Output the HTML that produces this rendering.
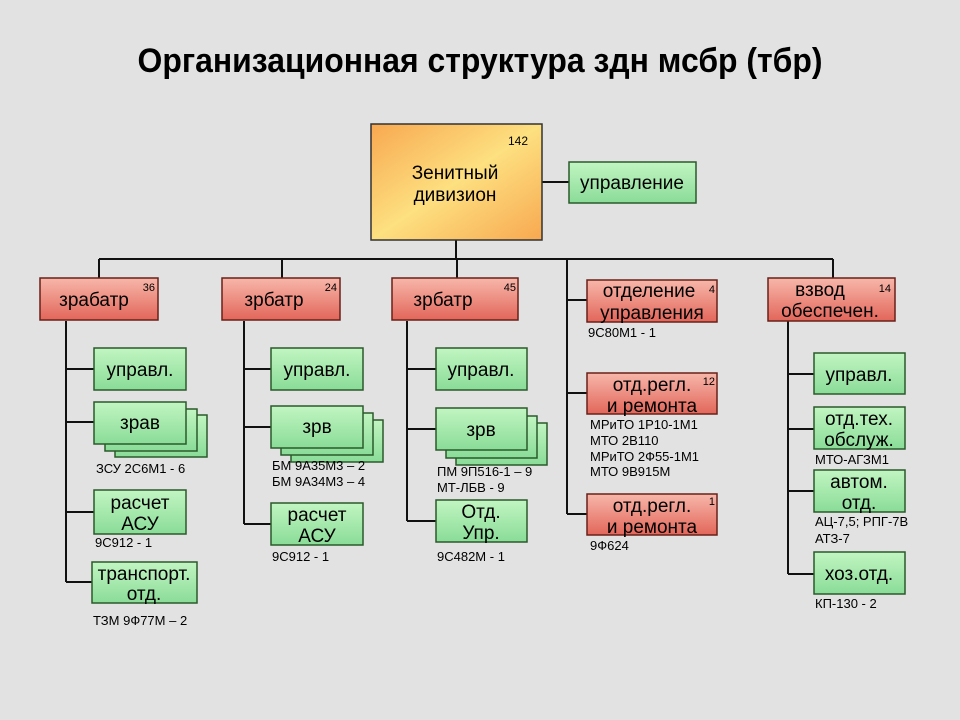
<!DOCTYPE html>
<html><head><meta charset="utf-8"><style>
html,body{margin:0;padding:0;background:#e4e4e4;}
svg{display:block;}
text{font-family:"Liberation Sans",sans-serif;}
</style></head><body>
<svg width="960" height="720" viewBox="0 0 960 720" xmlns="http://www.w3.org/2000/svg">
<defs>
<linearGradient id="g" x1="0" y1="0" x2="0" y2="1"><stop offset="0" stop-color="#c2f5c2"/><stop offset="1" stop-color="#8adc98"/></linearGradient>
<linearGradient id="r" x1="0" y1="0" x2="0" y2="1"><stop offset="0" stop-color="#f7b7aa"/><stop offset="1" stop-color="#e2665a"/></linearGradient>
<linearGradient id="o" x1="0" y1="0" x2="1" y2="1"><stop offset="0" stop-color="#f8a850"/><stop offset="0.5" stop-color="#fde080"/><stop offset="1" stop-color="#f8a850"/></linearGradient>
</defs>
<rect width="960" height="720" fill="#e2e2e2"/>
<text x="480" y="72" font-size="34" font-weight="bold" text-anchor="middle" textLength="685" lengthAdjust="spacingAndGlyphs">Организационная структура здн мсбр (тбр)</text>

<g stroke="#111" stroke-width="2" fill="none">
<line x1="456" y1="240" x2="456" y2="259"/>
<line x1="99" y1="259" x2="833" y2="259"/>
<line x1="99" y1="259" x2="99" y2="278"/>
<line x1="282" y1="259" x2="282" y2="278"/>
<line x1="457" y1="259" x2="457" y2="278"/>
<line x1="833" y1="259" x2="833" y2="278"/>
<line x1="542" y1="182" x2="569" y2="182"/>
<line x1="66" y1="321" x2="66" y2="582"/>
<line x1="66" y1="369" x2="94" y2="369"/><line x1="66" y1="422" x2="94" y2="422"/><line x1="66" y1="512" x2="94" y2="512"/><line x1="66" y1="582" x2="92" y2="582"/>
<line x1="244" y1="321" x2="244" y2="524"/>
<line x1="244" y1="369" x2="271" y2="369"/><line x1="244" y1="427" x2="271" y2="427"/><line x1="244" y1="524" x2="271" y2="524"/>
<line x1="407" y1="321" x2="407" y2="521"/>
<line x1="407" y1="369" x2="436" y2="369"/><line x1="407" y1="429" x2="436" y2="429"/><line x1="407" y1="521" x2="436" y2="521"/>
<line x1="567" y1="259" x2="567" y2="514"/>
<line x1="567" y1="300" x2="587" y2="300"/><line x1="567" y1="393" x2="587" y2="393"/><line x1="567" y1="514" x2="587" y2="514"/>
<line x1="788" y1="321" x2="788" y2="574"/>
<line x1="788" y1="374" x2="814" y2="374"/><line x1="788" y1="429" x2="814" y2="429"/><line x1="788" y1="491" x2="814" y2="491"/><line x1="788" y1="574" x2="814" y2="574"/>
</g>

<rect x="371" y="124" width="171" height="116" fill="url(#o)" stroke="#333" stroke-width="1.5"/>
<text x="528" y="145" font-size="12" text-anchor="end">142</text>
<text x="455" y="179" font-size="19" text-anchor="middle">Зенитный</text>
<text x="455" y="201" font-size="19" text-anchor="middle">дивизион</text>
<rect x="569" y="162" width="127" height="41" fill="url(#g)" stroke="#2a5a2a" stroke-width="1.5"/>
<text x="632" y="189" font-size="19" text-anchor="middle">управление</text>

<g stroke="#6a2018" stroke-width="1.5">
<rect x="40" y="278" width="118" height="42" fill="url(#r)"/>
<rect x="222" y="278" width="118" height="42" fill="url(#r)"/>
<rect x="392" y="278" width="126" height="42" fill="url(#r)"/>
<rect x="587" y="280" width="130" height="42" fill="url(#r)"/>
<rect x="587" y="373" width="130" height="41" fill="url(#r)"/>
<rect x="587" y="494" width="130" height="41" fill="url(#r)"/>
<rect x="768" y="278" width="127" height="43" fill="url(#r)"/>
</g>
<g font-size="19" text-anchor="middle">
<text x="94" y="306">зрабатр</text>
<text x="274" y="306">зрбатр</text>
<text x="443" y="306">зрбатр</text>
<text x="649" y="297">отделение</text><text x="652" y="319">управления</text>
<text x="652" y="391">отд.регл.</text><text x="652" y="412">и ремонта</text>
<text x="652" y="512">отд.регл.</text><text x="652" y="533">и ремонта</text>
<text x="820" y="296">взвод</text><text x="830" y="317">обеспечен.</text>
</g>
<g font-size="11" text-anchor="end">
<text x="155" y="291">36</text><text x="337" y="291">24</text><text x="516" y="291">45</text>
<text x="715" y="293">4</text><text x="715" y="385">12</text><text x="715" y="505">1</text><text x="891" y="292">14</text>
</g>

<g stroke="#2a5a2a" stroke-width="1.5" fill="url(#g)">
<rect x="94" y="348" width="92" height="42"/>
<rect x="115" y="415" width="92" height="42"/><rect x="105" y="409" width="92" height="42"/><rect x="94" y="402" width="92" height="42"/>
<rect x="94" y="490" width="92" height="44"/>
<rect x="92" y="562" width="105" height="41"/>
<rect x="271" y="348" width="92" height="42"/>
<rect x="291" y="420" width="92" height="42"/><rect x="281" y="413" width="92" height="42"/><rect x="271" y="406" width="92" height="42"/>
<rect x="271" y="503" width="92" height="42"/>
<rect x="436" y="348" width="91" height="42"/>
<rect x="456" y="423" width="91" height="42"/><rect x="446" y="416" width="91" height="42"/><rect x="436" y="408" width="91" height="42"/>
<rect x="436" y="500" width="91" height="42"/>
<rect x="814" y="353" width="91" height="41"/>
<rect x="814" y="407" width="91" height="42"/>
<rect x="814" y="470" width="91" height="42"/>
<rect x="814" y="552" width="91" height="42"/>
</g>
<g font-size="19" text-anchor="middle">
<text x="140" y="376">управл.</text>
<text x="140" y="429">зрав</text>
<text x="140" y="509">расчет</text><text x="140" y="530">АСУ</text>
<text x="144" y="580">транспорт.</text><text x="144" y="600">отд.</text>
<text x="317" y="376">управл.</text>
<text x="317" y="433">зрв</text>
<text x="317" y="521">расчет</text><text x="317" y="542">АСУ</text>
<text x="481" y="376">управл.</text>
<text x="481" y="436">зрв</text>
<text x="481" y="518">Отд.</text><text x="481" y="539">Упр.</text>
<text x="859" y="381">управл.</text>
<text x="859" y="425">отд.тех.</text><text x="859" y="446">обслуж.</text>
<text x="859" y="488">автом.</text><text x="859" y="509">отд.</text>
<text x="859" y="580">хоз.отд.</text>
</g>
<g font-size="13">
<text x="96" y="473">ЗСУ 2С6М1 - 6</text>
<text x="95" y="547">9С912 - 1</text>
<text x="93" y="625">ТЗМ 9Ф77М – 2</text>
<text x="272" y="470">БМ 9А35М3 – 2</text>
<text x="272" y="486">БМ 9А34М3 – 4</text>
<text x="272" y="561">9С912 - 1</text>
<text x="437" y="476">ПМ 9П516-1 – 9</text>
<text x="437" y="492">МТ-ЛБВ - 9</text>
<text x="437" y="561">9С482М - 1</text>
<text x="588" y="337">9С80М1 - 1</text>
<text x="590" y="429">МРиТО 1Р10-1М1</text>
<text x="590" y="445">МТО 2В110</text>
<text x="590" y="461">МРиТО 2Ф55-1М1</text>
<text x="590" y="476">МТО 9В915М</text>
<text x="590" y="550">9Ф624</text>
<text x="815" y="464">МТО-АГЗМ1</text>
<text x="815" y="526">АЦ-7,5;  РПГ-7В</text>
<text x="815" y="543">АТЗ-7</text>
<text x="815" y="608">КП-130 - 2</text>
</g>
</svg>
</body></html>
